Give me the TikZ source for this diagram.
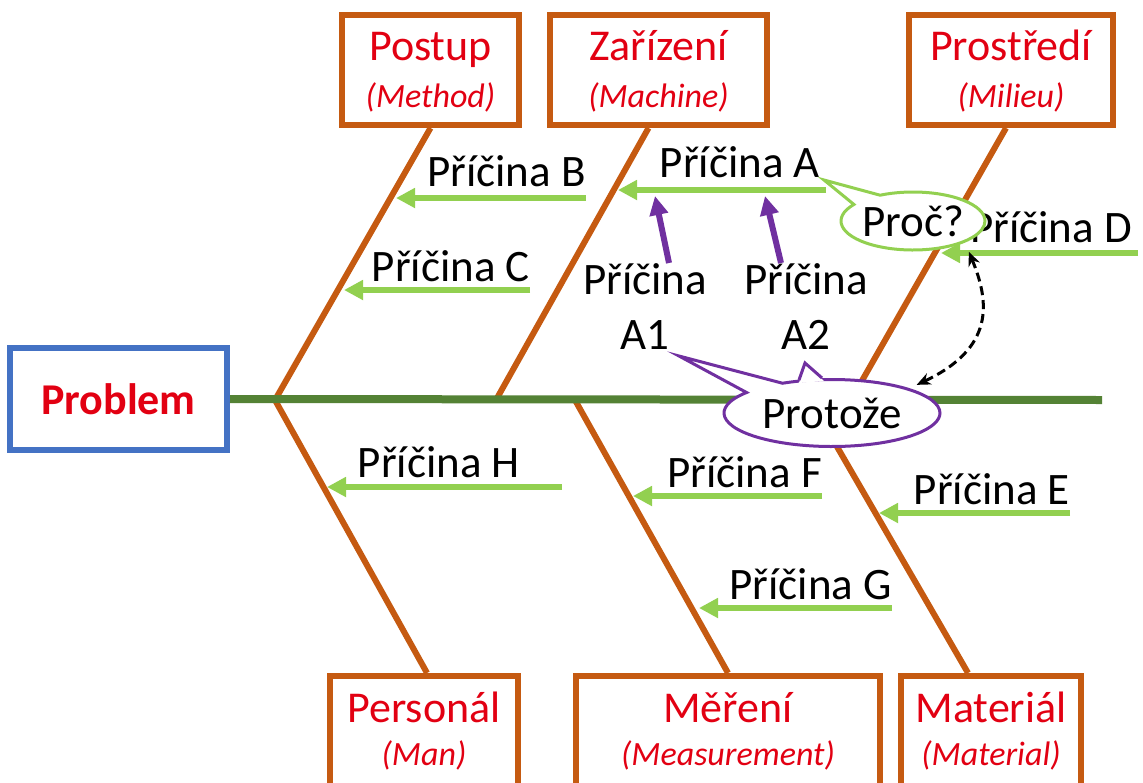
\documentclass[tikz,border=0pt]{standalone}
\usepackage{fontspec}
\setmainfont{Carlito}
\usetikzlibrary{arrows.meta,shapes.callouts}

\definecolor{bonebrown}{RGB}{197,90,17}
\definecolor{spinegreen}{RGB}{84,130,53}
\definecolor{causegreen}{RGB}{146,208,80}
\definecolor{whypurple}{RGB}{112,48,160}
\definecolor{probblue}{RGB}{68,114,196}
\definecolor{titlered}{RGB}{226,0,18}

\tikzset{
    catbox/.style={draw=bonebrown, line width=6pt, minimum height=110pt, inner sep=0pt},
    cattitle/.style={text=titlered, font=\fontsize{44}{50}\selectfont, anchor=base, inner sep=0pt},
    catsub/.style={text=titlered, font=\fontsize{34}{40}\selectfont\itshape, anchor=base, inner sep=0pt},
    bone/.style={draw=bonebrown, line width=6pt},
    cause/.style={font=\fontsize{45}{50}\selectfont, anchor=base east, inner sep=0pt},
    causearrow/.style={draw=causegreen, line width=6pt, -{Triangle[length=19pt,width=19pt]}},
    subarrow/.style={draw=whypurple, line width=6pt, -{Triangle[length=19pt,width=18pt]}},
    bubble/.style={ellipse callout, line width=3pt, fill=white, inner sep=0pt, font=\fontsize{45}{50}\selectfont},
    whyloop/.style={black, line width=3pt, dash pattern=on 9pt off 5pt, {Stealth[length=14pt,width=12pt]}-{Stealth[length=14pt,width=12pt]}, shorten <=10pt, shorten >=8pt}
}

\begin{document}
\begin{tikzpicture}[x=1pt,y=-1pt]
    \useasboundingbox (0,0) rectangle (1143,782);
    \clip (0,0) rectangle (1143,782);

    % kategorie nahore
    \node[catbox, minimum width=177pt] (postup) at (430.5,70) {};
    \node[catbox, minimum width=217pt] (zarizeni) at (658.5,70) {};
    \node[catbox, minimum width=204pt] (prostredi) at (1011,70) {};
    \node[cattitle] (tpostup) at ([yshift=-48pt]postup.north) {Postup};
    \node[catsub] (spostup) at ([yshift=-95pt]postup.north) {(Method)};
    \node[cattitle] (tzarizeni) at ([yshift=-48pt]zarizeni.north) {Zařízení};
    \node[catsub] (szarizeni) at ([yshift=-95pt]zarizeni.north) {(Machine)};
    \node[cattitle] (tprostredi) at ([yshift=-48pt]prostredi.north) {Prostředí};
    \node[catsub] (sprostredi) at ([yshift=-95pt]prostredi.north) {(Milieu)};

    % kategorie dole
    \node[catbox, minimum width=188pt] (personal) at (424,731) {};
    \node[catbox, minimum width=304pt] (mereni) at (728,731) {};
    \node[catbox, minimum width=180pt] (material) at (991,731) {};
    \node[cattitle] (tpersonal) at ([yshift=-49pt]personal.north) {Personál};
    \node[catsub] (spersonal) at ([yshift=-92pt]personal.north) {(Man)};
    \node[cattitle] (tmereni) at ([yshift=-49pt]mereni.north) {Měření};
    \node[catsub] (smereni) at ([yshift=-92pt]mereni.north) {(Measurement)};
    \node[cattitle] (tmaterial) at ([yshift=-49pt]material.north) {Materiál};
    \node[catsub] (smaterial) at ([yshift=-92pt]material.north) {(Material)};

    \node[draw=probblue, line width=6pt, minimum width=217pt, minimum height=102pt,
        text=titlered, font=\fontsize{44}{50}\selectfont\bfseries] (problem) at (118.5,399) {Problem};

    % kosti
    \coordinate (j1) at (275,400);
    \coordinate (j2) at (496,400);
    \coordinate (j3) at (575,400);
    \coordinate (j4) at (851,400);
    \coordinate (j5) at (810,400);
    \coordinate (tail) at (1102,400);
    \draw[bone] (postup.south) -- (j1);
    \draw[bone] ([xshift=-10pt]zarizeni.south) -- (j2);
    \draw[bone] ([xshift=-5pt]prostredi.south) -- (j4);
    \draw[bone] (j1) -- ([xshift=3pt]personal.north);
    \draw[bone] (j3) -- (mereni.north);
    \draw[bone] (j5) -- ([xshift=-23pt]material.north);
    \draw[spinegreen, line width=8pt] (problem.east) -- (tail);

    % priciny
    \coordinate (tA) at (618,190);
    \coordinate (tB) at (396,198);
    \coordinate (tC) at (344,290);
    \coordinate (tD) at (941,253);
    \coordinate (tE) at (879,513);
    \coordinate (tF) at (633,496);
    \coordinate (tG) at (699,608);
    \coordinate (tH) at (327,487);
    \coordinate (sH) at (562,487);

    \node[cause] (cA) at (820,177) {Příčina A};
    \node[cause] (cB) at (586,186) {Příčina B};
    \node[cause] (cC) at (530,281) {Příčina C};
    \node[cause] (cD) at (1132,242) {Příčina D};
    \node[cause] (cE) at (1070,504) {Příčina E};
    \node[cause] (cF) at (822,487) {Příčina F};
    \node[cause] (cG) at (892,599) {Příčina G};
    \node[cause] (cH) at (520,477) {Příčina H};

    \draw[causearrow] ([xshift=6pt]cA.base east |- tA) -- (tA);
    \draw[causearrow] (cB.base east |- tB) -- (tB);
    \draw[causearrow] (cC.base east |- tC) -- (tC);
    \draw[causearrow] ([xshift=6pt]cD.base east |- tD) -- (tD);
    \draw[causearrow] (cE.base east |- tE) -- (tE);
    \draw[causearrow] (cF.base east |- tF) -- (tF);
    \draw[causearrow] (cG.base east |- tG) -- (tG);
    \draw[causearrow] (sH) -- (tH);

    % podpriciny A1, A2
    \node[font=\fontsize{45}{55}\selectfont, align=center, anchor=north, inner sep=0pt] (a1) at (645,263) {Příčina\\A1};
    \node[font=\fontsize{45}{55}\selectfont, align=center, anchor=north, inner sep=0pt] (a2) at (806,263) {Příčina\\A2};
    \coordinate (hA1) at (655,196);
    \coordinate (hA2) at (765,196);
    \draw[subarrow] ([xshift=24pt]a1.north) -- (hA1);
    \draw[subarrow] ([xshift=-25pt]a2.north) -- (hA2);

    % bubliny
    \node[bubble, draw=causegreen, minimum width=144pt, minimum height=58pt,
        callout absolute pointer={(824,180)}, callout pointer arc=28] (why) at (913,221) {Proč?};
    \node[bubble, draw=whypurple, minimum width=216pt, minimum height=67pt,
        callout absolute pointer={(679,356)}, callout pointer arc=25] (because) at (832,413) {Protože};
    \fill[white] (799,383) -- (805,363) -- (824,381) -- cycle;
    \draw[whypurple, line width=3pt] (799,380) -- (805,363) -- (822,378);

    \draw[whyloop] (why.south east) .. controls +(25,60) and +(85,-40) .. (because.north east);
\end{tikzpicture}
\end{document}
